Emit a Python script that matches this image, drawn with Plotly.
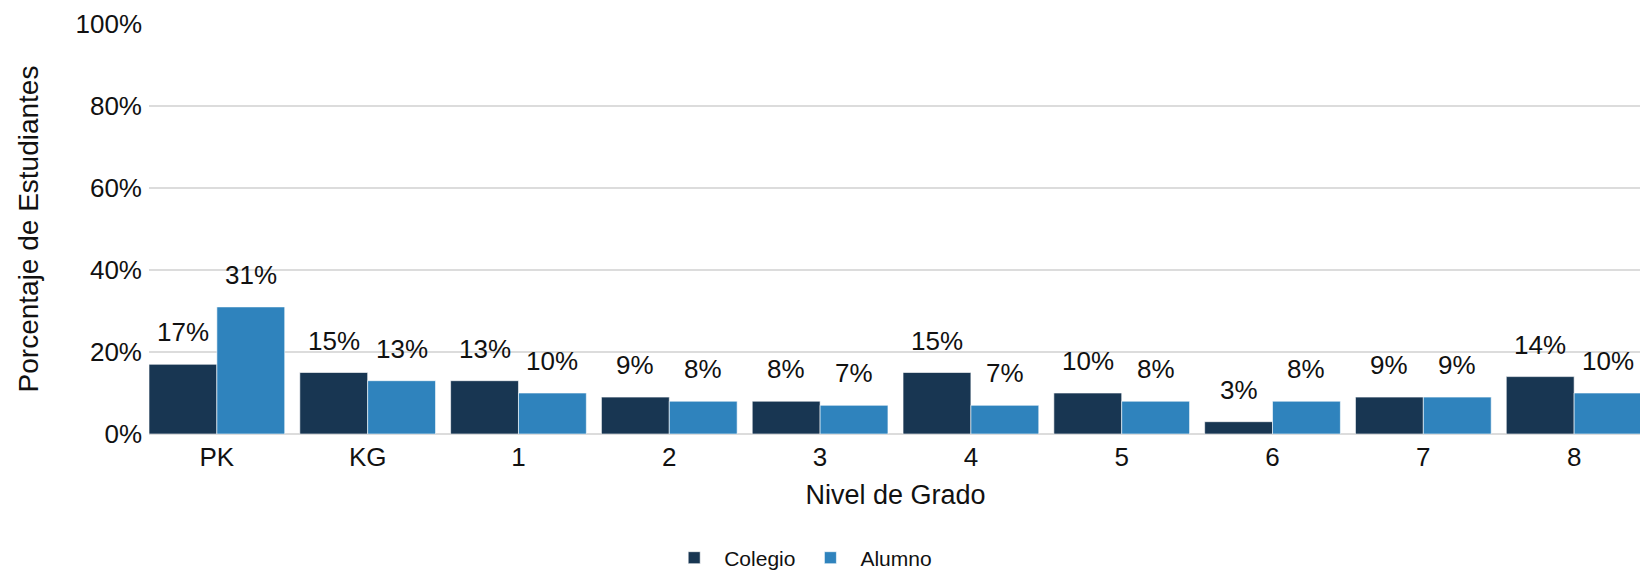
import plotly.graph_objects as go

categories = ["PK", "KG", "1", "2", "3", "4", "5", "6", "7", "8"]
colegio = [17, 15, 13, 9, 8, 15, 10, 3, 9, 14]
alumno = [31, 13, 10, 8, 7, 7, 8, 8, 9, 10]
series_names = ["Colegio", "Alumno"]
colors = ["#183652", "#2f83bd"]
y_ticks = [0, 20, 40, 60, 80, 100]

FONT = "Liberation Sans, Arial, sans-serif"
W, H = 1648, 579
ML, MR, MT, MB = 141, 14, 16, 153
BARGAP = 0.1

fig = go.Figure()
for name, vals, col in zip(series_names, [colegio, alumno], colors):
    fig.add_trace(go.Bar(
        x=categories, y=vals, name=name,
        marker=dict(color=col, line=dict(color="rgba(255,255,255,0.6)", width=1)),
    ))

# x range trimmed so the outer bars touch the plot edges
x_lo = -0.5 + BARGAP / 2
x_hi = len(categories) - 0.5 - BARGAP / 2

# value labels above bars (x given as category index on the category axis)
plot_w = W - ML - MR
px_per_unit = plot_w / (x_hi - x_lo)
bar_w = px_per_unit * (1 - BARGAP) / 2
for j, vals in enumerate([colegio, alumno]):
    xs = (j - 0.5) * bar_w
    for i, v in enumerate(vals):
        fig.add_annotation(
            x=i, y=v, xref="x", yref="y", text=f"{v}%", showarrow=False,
            xshift=xs, yshift=15, yanchor="bottom",
            font=dict(family=FONT, size=26, color="#111111"),
        )

fig.update_layout(
    width=W, height=H,
    margin=dict(l=ML, r=MR, t=MT, b=MB, autoexpand=False),
    paper_bgcolor="white", plot_bgcolor="white",
    barmode="group", bargap=BARGAP, bargroupgap=0,
    font=dict(family=FONT, size=26, color="#111111"),
    xaxis=dict(
        title=dict(text="Nivel de Grado", font=dict(size=27), standoff=14),
        tickfont=dict(size=26), showgrid=False, showline=False, ticks="",
        range=[x_lo, x_hi], ticklabelstandoff=5, automargin=False,
    ),
    yaxis=dict(
        title=dict(text="Porcentaje de Estudiantes", font=dict(size=28), standoff=28),
        range=[0, 100], tickvals=y_ticks, ticktext=[f"{t}%" for t in y_ticks],
        tickfont=dict(size=26), showgrid=True, gridcolor="#dcdcdc", gridwidth=2,
        zeroline=True, zerolinecolor="#dcdcdc", zerolinewidth=2, ticks="",
        ticklabelstandoff=6, automargin=False,
    ),
    legend=dict(
        orientation="h", xref="container", yref="container",
        x=0.481, y=0.05, xanchor="center", yanchor="middle",
        font=dict(size=21, color="#111111"), itemwidth=50,
    ),
    showlegend=True,
)

fig.write_html("out.html")
